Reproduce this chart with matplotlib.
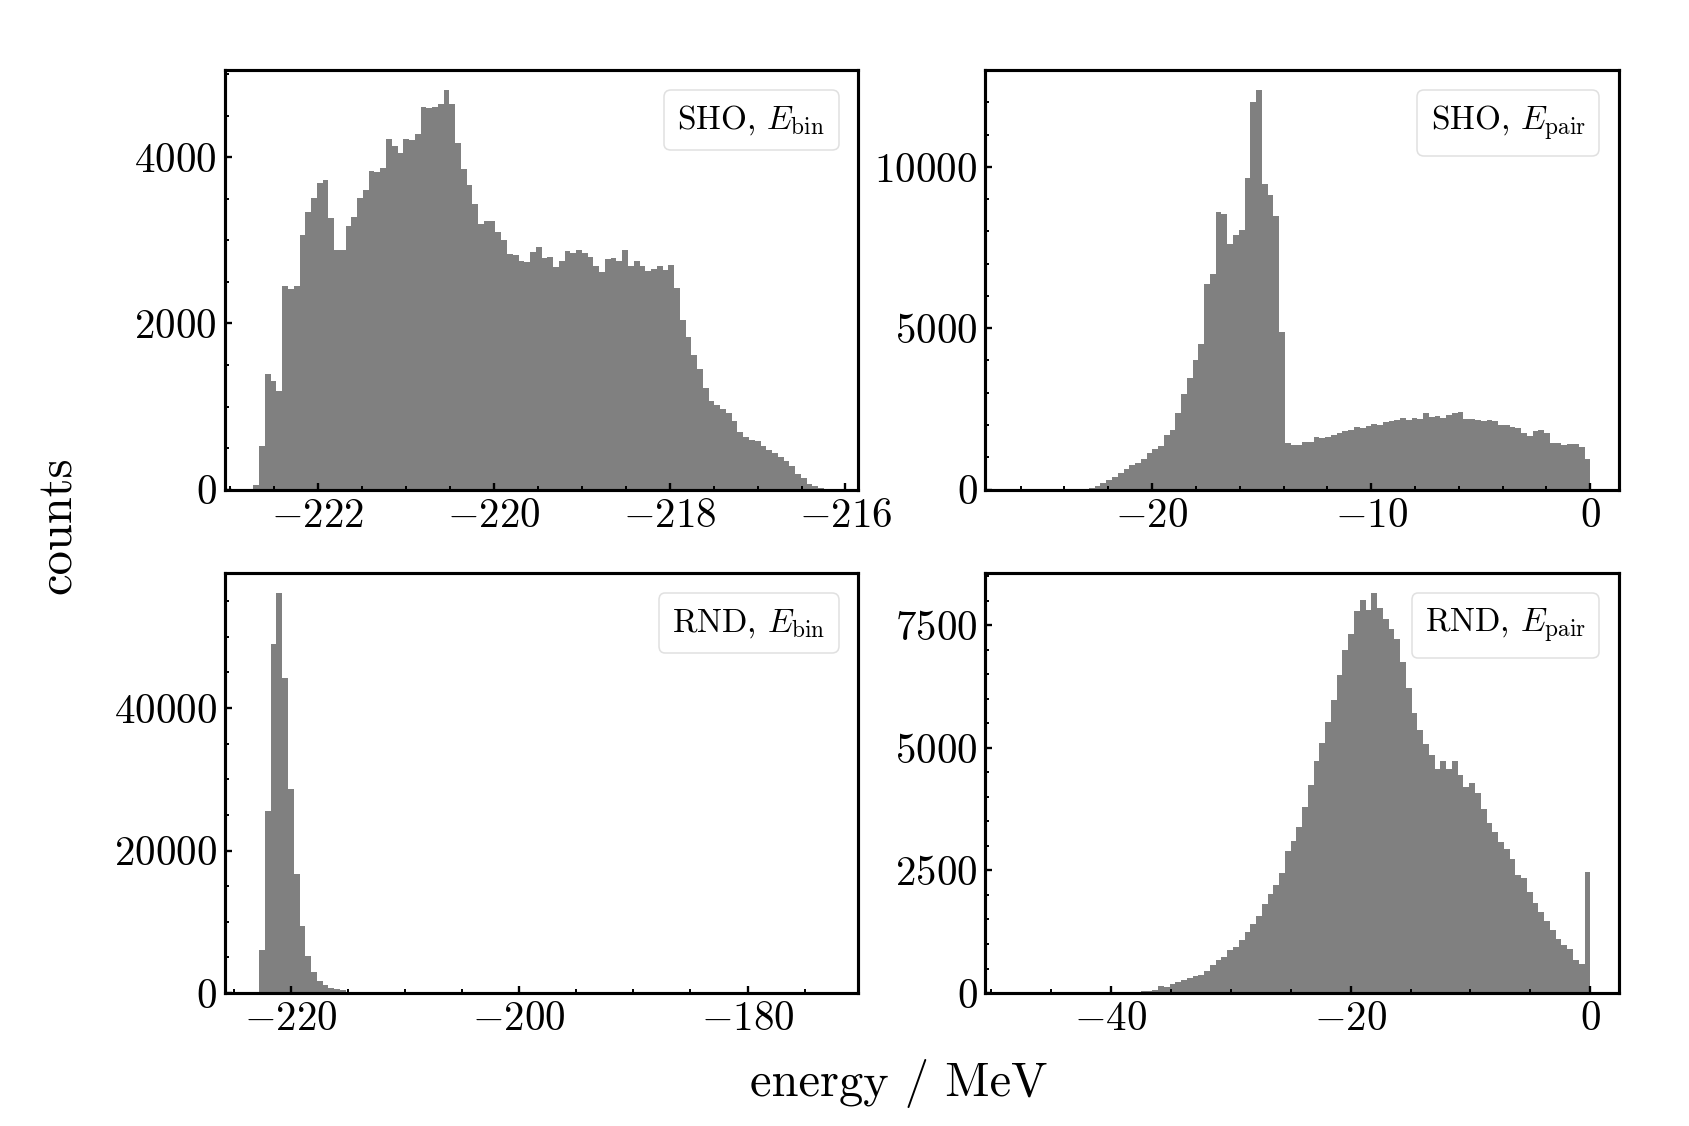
import numpy as np
import matplotlib
matplotlib.use('Agg')
import matplotlib.pyplot as plt
from matplotlib.ticker import MultipleLocator, AutoMinorLocator

plt.rcParams['font.family'] = 'serif'
plt.rcParams['font.serif'] = ['cmr10']
plt.rcParams['mathtext.fontset'] = 'cm'
plt.rcParams['axes.formatter.use_mathtext'] = True
plt.rcParams['font.size'] = 10.5

# histogram ranges (MeV), 100 bins each
sho_bin_range = [-222.73, -216.18]
sho_pair_range = [-26.3, 0.0]
rnd_bin_range = [-223.3, -172.8]
rnd_pair_range = [-48.1, 0.0]

# bin counts
sho_bin_counts = [
    50, 530, 1390, 1305, 1185, 2450, 2410, 2450, 3068, 3341,
    3514, 3687, 3727, 3273, 2883, 2883, 3177, 3285, 3514, 3606,
    3835, 3823, 3875, 4217, 4137, 4048, 4225, 4209, 4281, 4602,
    4590, 4610, 4638, 4811, 4638, 4177, 3863, 3667, 3434, 3197,
    3229, 3229, 3096, 3000, 2835, 2823, 2751, 2739, 2855, 2924,
    2791, 2803, 2683, 2755, 2871, 2843, 2880, 2843, 2795, 2687,
    2622, 2779, 2791, 2747, 2883, 2691, 2747, 2691, 2635, 2651,
    2691, 2643, 2699, 2422, 2040, 1839, 1622, 1450, 1225, 1068,
    1016, 976, 924, 831, 695, 631, 602, 582, 526, 474,
    442, 394, 341, 289, 193, 141, 72, 44, 24, 8]

sho_pair_counts = [
    2, 20, 10, 30, 30, 20, 10, 30, 20, 30,
    30, 30, 30, 40, 100, 190, 310, 390, 500, 650,
    770, 830, 940, 1120, 1270, 1350, 1700, 1840, 2380, 2970,
    3470, 4010, 4520, 6380, 6690, 8600, 8550, 7620, 7880, 8040,
    9660, 12010, 12380, 9480, 9140, 8480, 4870, 1450, 1390, 1370,
    1460, 1480, 1630, 1600, 1630, 1700, 1760, 1810, 1860, 1940,
    1910, 1970, 2020, 1990, 2100, 2120, 2170, 2230, 2170, 2220,
    2180, 2360, 2250, 2290, 2230, 2300, 2360, 2390, 2200, 2180,
    2150, 2120, 2170, 2130, 1990, 1990, 1940, 1910, 1760, 1660,
    1810, 1840, 1740, 1430, 1450, 1370, 1400, 1400, 1320, 960]

rnd_bin_counts = [
    180, 5980, 25600, 48930, 56080, 44160, 28690, 16640, 9440, 5230,
    2990, 1680, 1075, 700, 510, 370, 190, 110, 70, 45,
    30, 20, 12, 8, 5, 3, 2, 1, 1, 0,
    0, 0, 0, 0, 0, 0, 0, 0, 0, 0,
    0, 0, 0, 0, 0, 0, 0, 0, 0, 0,
    0, 0, 0, 0, 0, 0, 0, 0, 0, 0,
    0, 0, 0, 0, 0, 0, 0, 0, 0, 0,
    0, 0, 0, 0, 0, 0, 0, 0, 0, 0,
    0, 0, 0, 0, 0, 0, 0, 0, 0, 0,
    0, 0, 0, 0, 0, 0, 0, 0, 0, 1]

rnd_pair_counts = [
    1, 0, 0, 0, 1, 0, 0, 1, 0, 1,
    1, 2, 2, 3, 4, 6, 9, 14, 14, 20,
    20, 27, 48, 41, 68, 136, 122, 177, 218, 258,
    306, 354, 374, 456, 565, 680, 735, 884, 939, 1075,
    1238, 1415, 1578, 1823, 2020, 2211, 2449, 2891, 3095, 3388,
    3796, 4252, 4728, 5095, 5530, 5973, 6483, 6993, 7326, 7789,
    8014, 7810, 8150, 7857, 7633, 7435, 7231, 6755, 6225, 5714,
    5374, 5088, 4864, 4572, 4728, 4572, 4728, 4456, 4204, 4286,
    4082, 3755, 3470, 3279, 3075, 2939, 2735, 2415, 2347, 2054,
    1837, 1646, 1476, 1293, 1109, 986, 898, 667, 599, 2470]

panels = [
    (sho_bin_range, sho_bin_counts, r'SHO, $E_\mathrm{bin}$', 2, 2000),
    (sho_pair_range, sho_pair_counts, r'SHO, $E_\mathrm{pair}$', 10, 5000),
    (rnd_bin_range, rnd_bin_counts, r'RND, $E_\mathrm{bin}$', 20, 20000),
    (rnd_pair_range, rnd_pair_counts, r'RND, $E_\mathrm{pair}$', 20, 2500),
]

fig, axes = plt.subplots(2, 2, figsize=(6, 4), dpi=281.5)
fig.subplots_adjust(left=0.133, right=0.9586, top=0.9378, bottom=0.1181,
                    wspace=0.2, hspace=0.2)

for ax, (rng, counts, label, xstep, ystep) in zip(axes.flat, panels):
    edges = np.linspace(rng[0], rng[1], len(counts) + 1)
    centers = 0.5 * (edges[:-1] + edges[1:])
    ax.hist(centers, bins=edges, weights=counts, color='gray', label=label)
    ax.xaxis.set_major_locator(MultipleLocator(xstep))
    ax.yaxis.set_major_locator(MultipleLocator(ystep))
    ax.xaxis.set_minor_locator(AutoMinorLocator())
    ax.yaxis.set_minor_locator(AutoMinorLocator())
    ax.tick_params(which='both', direction='in', pad=2)
    ax.tick_params(which='major', length=1.9, width=0.6)
    ax.tick_params(which='minor', length=1.0, width=0.5)
    leg = ax.legend(loc='upper right', handlelength=0, handletextpad=0,
                    fontsize=8.5, borderaxespad=0.6)
    leg.get_frame().set_linewidth(0.4)
    leg.get_frame().set_edgecolor('0.85')
    for h in leg.legend_handles:
        h.set_visible(False)

fig.text(0.532, 0.038, 'energy / MeV', fontsize=12.4, ha='center', va='center')
fig.text(0.035, 0.534, 'counts', fontsize=12.4, ha='center', va='center',
         rotation=90)

plt.savefig('out.png', dpi=281.5)
